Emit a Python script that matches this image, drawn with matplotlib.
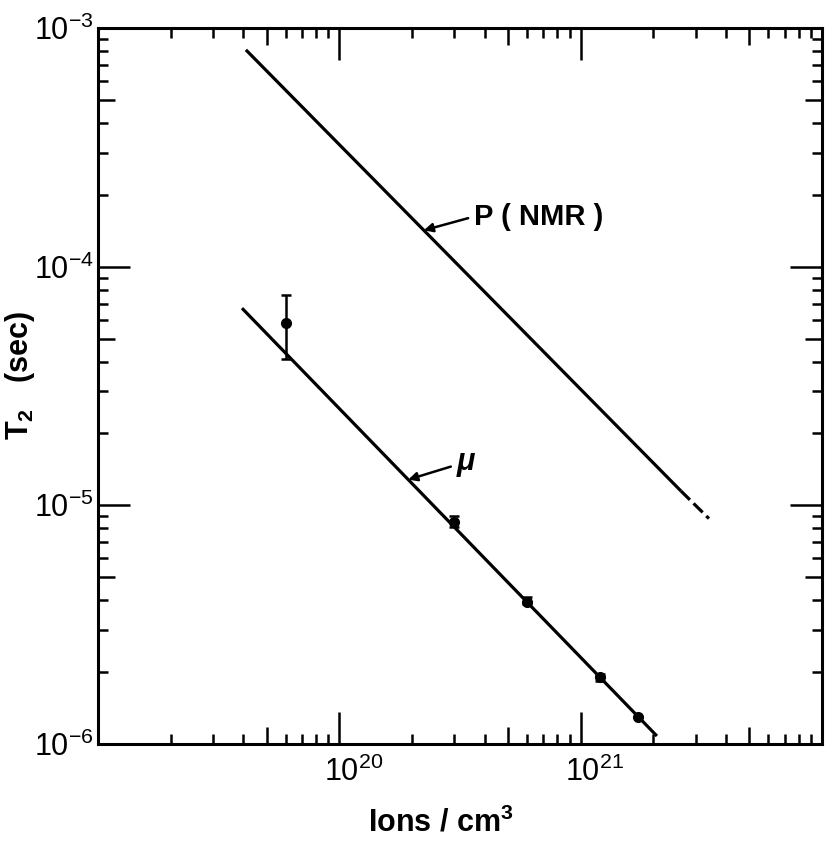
import numpy as np
import matplotlib
matplotlib.use("Agg")
import matplotlib.pyplot as plt
from matplotlib.ticker import FixedLocator, LogLocator, NullLocator
from matplotlib.transforms import ScaledTranslation

plt.rcParams['font.family'] = ['Liberation Sans', 'DejaVu Sans']
plt.rcParams['mathtext.fontset'] = 'custom'
plt.rcParams['mathtext.rm'] = 'Liberation Sans'
plt.rcParams['mathtext.it'] = 'Liberation Sans:italic'
plt.rcParams['mathtext.bf'] = 'Liberation Sans:bold'

# ---- data ----
# P(NMR) line (solid part, then dashed extrapolation)
nmr_x = [4.1e19, 2.6e21]
nmr_y = [8.1e-4, 1.15e-5]
nmr_dash_x = [2.6e21, 3.4e21]
nmr_dash_y = [1.15e-5, 8.8e-6]

# muon line
mu_line_x = [3.95e19, 2.07e21]
mu_line_y = [6.7e-5, 1.08e-6]

# muon data points with asymmetric error bars
mu_n = [6.0e19, 3.0e20, 6.0e20, 1.2e21, 1.73e21]
mu_t2 = [5.8e-5, 8.5e-6, 3.95e-6, 1.9e-6, 1.30e-6]
mu_hi = [7.6e-5, 9.0e-6, 4.12e-6, 1.96e-6, 1.30e-6]
mu_lo = [4.1e-5, 8.1e-6, 3.85e-6, 1.84e-6, 1.30e-6]

x_major = [1e19, 1e20, 1e21, 1e22]
x_major_labels = ['', r'$\mathregular{10^{20}}$', r'$\mathregular{10^{21}}$', '']
x_mid = [5e19, 5e20, 5e21]
y_major = [1e-6, 1e-5, 1e-4, 1e-3]
y_major_labels = [r'$\mathregular{10^{-6}}$', r'$\mathregular{10^{-5}}$',
                  r'$\mathregular{10^{-4}}$', r'$\mathregular{10^{-3}}$']
y_mid = [5e-6, 5e-5, 5e-4]

# ---- figure ----
W, H = 834, 841
fig = plt.figure(figsize=(W / 100, H / 100), dpi=100)
ax = fig.add_axes([98 / W, 1 - 744 / H, (822 - 98) / W, (744 - 28) / H])
ax.set_xscale('log')
ax.set_yscale('log')
ax.set_xlim(1e19, 1e22)
ax.set_ylim(1e-6, 1e-3)

for s in ax.spines.values():
    s.set_linewidth(2.2)

LW = 2.3
ax.plot(nmr_x, nmr_y, color='black', lw=LW, solid_capstyle='butt')
ax.plot(nmr_dash_x, nmr_dash_y, color='black', lw=LW, dashes=(4, 1.6))
ax.plot(mu_line_x, mu_line_y, color='black', lw=LW, solid_capstyle='butt')

err = [np.array(mu_t2) - np.array(mu_lo), np.array(mu_hi) - np.array(mu_t2)]
ax.errorbar(mu_n, mu_t2, yerr=err, fmt='o', color='black', ms=7,
            elinewidth=1.8, capsize=3.6, capthick=1.8)

# ticks
ax.xaxis.set_major_locator(FixedLocator(x_major))
ax.set_xticks(x_major, labels=x_major_labels)
ax.xaxis.set_minor_locator(LogLocator(base=10, subs=[2, 3, 4, 6, 7, 8, 9], numticks=30))
ax.set_yticks(y_major, labels=y_major_labels)
ax.yaxis.set_minor_locator(LogLocator(base=10, subs=[2, 3, 4, 6, 7, 8, 9], numticks=30))
ax.tick_params(which='major', direction='in', length=23, width=1.8,
               top=True, right=True, labelsize=22)
ax.tick_params(axis='x', which='major', pad=9)
ax.tick_params(axis='y', which='major', pad=3)
ax.tick_params(which='minor', direction='in', length=7.5, width=1.8,
               top=True, right=True)

for lab in ax.get_xticklabels():
    lab.set_transform(lab.get_transform() + ScaledTranslation(0.14, 0, fig.dpi_scale_trans))

# mid-length ticks at 5
for loc in ['bottom', 'top']:
    sec = ax.secondary_xaxis(loc)
    sec.set_xticks(x_mid, labels=['' for _ in x_mid])
    sec.xaxis.set_minor_locator(NullLocator())
    sec.tick_params(direction='in', length=12, width=1.8)
    for s in sec.spines.values():
        s.set_visible(False)
for loc in ['left', 'right']:
    sec = ax.secondary_yaxis(loc)
    sec.set_yticks(y_mid, labels=['' for _ in y_mid])
    sec.yaxis.set_minor_locator(NullLocator())
    sec.tick_params(direction='in', length=12, width=1.8)
    for s in sec.spines.values():
        s.set_visible(False)

# axis labels
ax.set_xlabel(r'Ions / cm$^\mathbf{3}$', fontsize=22, fontweight='bold')
ax.xaxis.set_label_coords(0.474, -0.088)
ax.set_ylabel(r'T$_\mathbf{2}$   (sec)', fontsize=22, fontweight='bold')
ax.yaxis.set_label_coords(-0.084, 0.515)


def on_line(xs, ys, xq):
    return 10 ** np.interp(np.log10(xq), np.log10(xs), np.log10(ys))


tip_p = 2.24e20
ax.annotate('P ( NMR )', xy=(tip_p, on_line(nmr_x, nmr_y, tip_p)),
            xytext=(3.6e20, 1.62e-4), ha='left', va='center', fontsize=21,
            fontweight='bold',
            arrowprops=dict(arrowstyle='-|>', lw=1.8, color='black',
                            mutation_scale=13, shrinkA=2, shrinkB=0,
                            relpos=(0, 0.5)))
tip_m = 1.93e20
ax.annotate('μ', xy=(tip_m, on_line(mu_line_x, mu_line_y, tip_m)),
            xytext=(3.05e20, 1.52e-5), ha='left', va='center', fontsize=22,
            fontstyle='italic', fontweight='bold',
            arrowprops=dict(arrowstyle='-|>', lw=1.8, color='black',
                            mutation_scale=13, shrinkA=2, shrinkB=0,
                            relpos=(0, 0.4)))

fig.savefig('out.png', dpi=100, facecolor='white')
